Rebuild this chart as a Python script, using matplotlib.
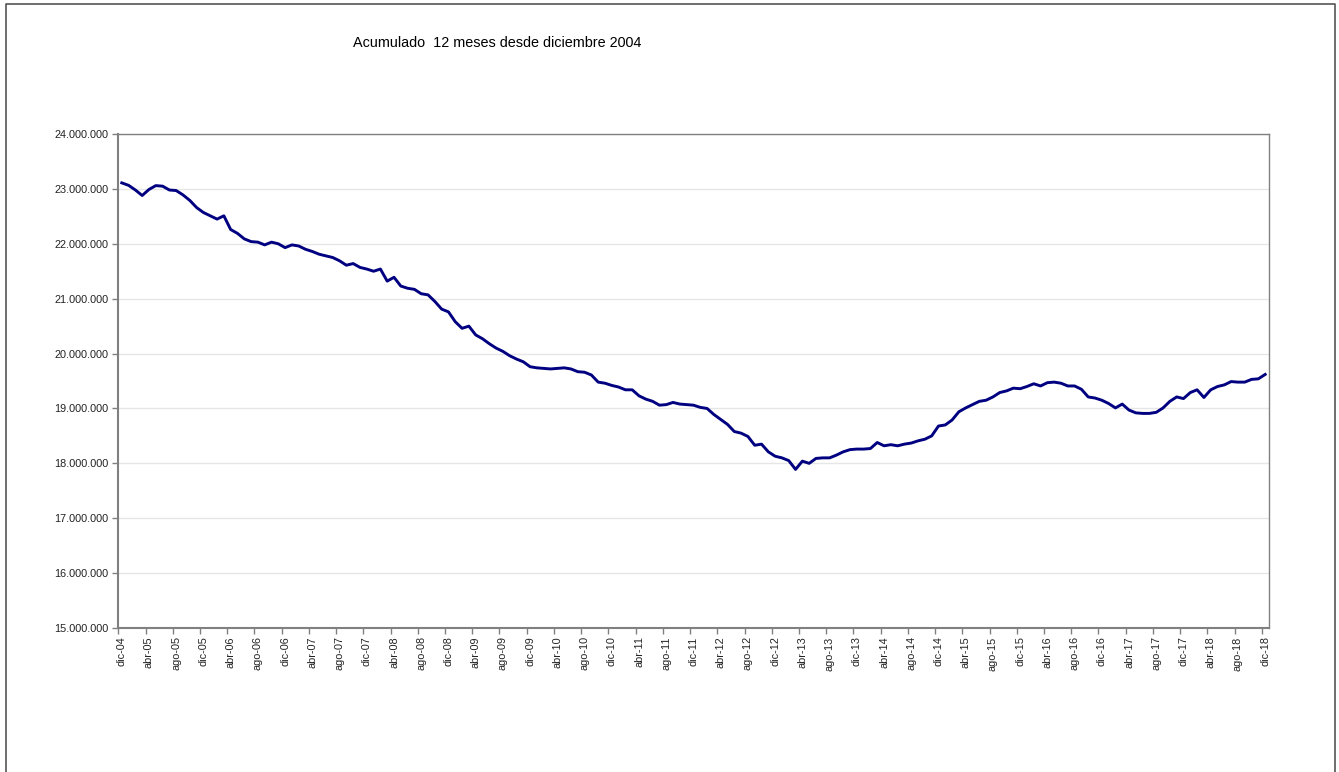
import matplotlib

matplotlib.use("Agg")
import matplotlib.pyplot as plt
from matplotlib.lines import Line2D
from matplotlib.ticker import FixedLocator, FuncFormatter

plt.rcParams["font.family"] = ["Liberation Sans", "DejaVu Sans"]

# Acumulado 12 meses, en millones, mensual desde dic-04 hasta dic-18
valores_millones = [
    23.11, 23.065, 22.98, 22.88, 22.99, 23.06, 23.05, 22.98, 22.97, 22.89,
    22.79, 22.66, 22.57, 22.51, 22.45, 22.51, 22.26, 22.19, 22.09, 22.04,
    22.03, 21.98, 22.03, 22.00, 21.93, 21.98, 21.96, 21.90, 21.86, 21.81,
    21.78, 21.75, 21.69, 21.61, 21.64, 21.57, 21.54, 21.50, 21.54, 21.32,
    21.39, 21.23, 21.19, 21.17, 21.09, 21.07, 20.95, 20.81, 20.76, 20.58,
    20.46, 20.50, 20.34, 20.27, 20.18, 20.10, 20.04, 19.96, 19.90, 19.85,
    19.76, 19.74, 19.73, 19.72, 19.73, 19.74, 19.72, 19.67, 19.66, 19.61,
    19.48, 19.46, 19.42, 19.39, 19.34, 19.34, 19.23, 19.17, 19.13, 19.06,
    19.07, 19.11, 19.08, 19.07, 19.06, 19.02, 19.00, 18.89, 18.80, 18.71,
    18.58, 18.55, 18.49, 18.33, 18.35, 18.21, 18.13, 18.10, 18.05, 17.89,
    18.04, 18.00, 18.09, 18.10, 18.10, 18.15, 18.21, 18.25, 18.26, 18.26,
    18.27, 18.38, 18.32, 18.34, 18.32, 18.35, 18.37, 18.41, 18.44, 18.50,
    18.68, 18.70, 18.79, 18.94, 19.01, 19.07, 19.13, 19.15, 19.21, 19.29,
    19.32, 19.37, 19.36, 19.40, 19.45, 19.41, 19.47, 19.48, 19.46, 19.41,
    19.41, 19.35, 19.21, 19.19, 19.15, 19.09, 19.01, 19.08, 18.97, 18.92,
    18.91, 18.91, 18.93, 19.01, 19.13, 19.21, 19.18, 19.29, 19.34, 19.20,
    19.34, 19.40, 19.43, 19.49, 19.48, 19.48, 19.53, 19.54, 19.62,
]
valores = [v * 1e6 for v in valores_millones]

meses = ["ene", "feb", "mar", "abr", "may", "jun",
         "jul", "ago", "sep", "oct", "nov", "dic"]
etiquetas = []
for i in range(len(valores)):
    m = (11 + i) % 12
    anio = 4 + (11 + i) // 12
    etiquetas.append(f"{meses[m]}-{anio:02d}")

y_ticks = [15e6 + k * 1e6 for k in range(10)]

fig = plt.figure(figsize=(13.39, 7.72), dpi=100)
ax = fig.add_axes([0.0884, 0.1865, 0.859, 0.6399])

x = list(range(len(valores)))
ax.plot(x, valores, color="#000080", linewidth=2.1, solid_joinstyle="round")

ax.set_xlim(-0.5, len(valores) - 0.5)
ax.set_ylim(15e6, 24e6)

# etiquetas centradas en la categoría, marcas en los bordes
pos_lab = list(range(0, len(valores), 4))
ax.set_xticks(pos_lab)
ax.set_xticklabels([etiquetas[p] for p in pos_lab], rotation=90, fontsize=7.8,
                   color="#222222")
ax.tick_params(axis="x", which="major", length=0, pad=6)
ax.xaxis.set_minor_locator(FixedLocator([p - 0.5 for p in pos_lab]))
ax.tick_params(axis="x", which="minor", length=4, width=1, color="#808080",
               direction="out")

ax.set_yticks(y_ticks)
ax.yaxis.set_major_formatter(FuncFormatter(lambda v, _: f"{v:,.0f}".replace(",", ".")))
ax.tick_params(axis="y", length=4, width=1, color="#808080", labelsize=7.8,
               labelcolor="#222222", pad=3)

ax.grid(axis="y", color="#e6e6e6", linewidth=1)
ax.set_axisbelow(True)
for s in ax.spines.values():
    s.set_color("#808080")
    s.set_linewidth(1)
ax.spines["bottom"].set_linewidth(1.5)
ax.spines["left"].set_linewidth(1.5)

fig.text(0.371, 0.9445, "Acumulado  12 meses desde diciembre 2004",
         ha="center", va="center", fontsize=10.4)

# marco del gráfico
fig.add_artist(Line2D([0.0045, 0.0045, 0.997, 0.997], [0, 0.9948, 0.9948, 0],
                      transform=fig.transFigure, color="#555555", linewidth=1.2))

fig.savefig("out.png", dpi=100)
